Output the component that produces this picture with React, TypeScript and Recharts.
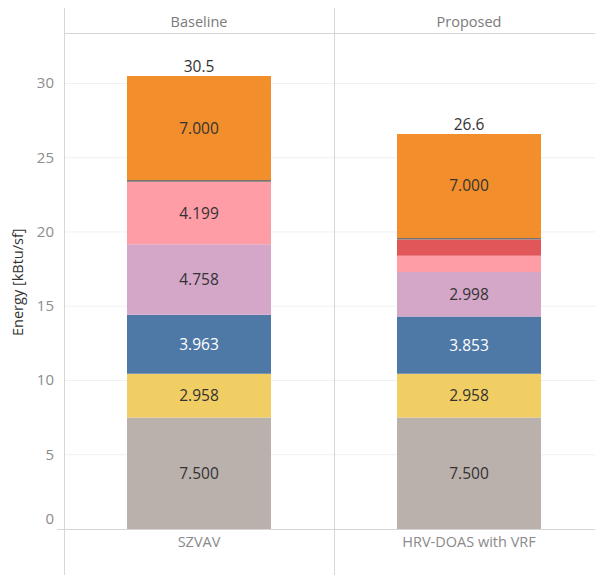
import { BarChart, Bar, XAxis, YAxis, CartesianGrid, LabelList } from 'recharts'

// panels (header row) and the system shown in each
const PANELS = ['Baseline', 'Proposed']
const SYSTEMS = ['SZVAV', 'HRV-DOAS with VRF']

// stacked energy components, bottom to top [kBtu/sf]
const grayVals = [7.5, 7.5]
const yellowVals = [2.958, 2.958]
const blueVals = [3.963, 3.853]
const purpleVals = [4.758, 2.998]
const pinkVals = [4.199, 1.09]
const redVals = [0, 1.1]
const darkVals = [0.12, 0.1]
const orangeVals = [7.0, 7.0]

const Y_TICKS = [0, 5, 10, 15, 20, 25, 30]

const SERIES = [
  { key: 'gray', values: grayVals, color: '#bab0ac', text: '#333' },
  { key: 'yellow', values: yellowVals, color: '#f1ce63', text: '#333' },
  { key: 'blue', values: blueVals, color: '#4e79a7', text: '#fff' },
  { key: 'purple', values: purpleVals, color: '#d4a6c8', text: '#333' },
  { key: 'pink', values: pinkVals, color: '#ff9da7', text: '#333' },
  { key: 'red', values: redVals, color: '#e15759', text: '#333' },
  { key: 'dark', values: darkVals, color: '#79706e', text: '#333' },
  { key: 'orange', values: orangeVals, color: '#f28e2b', text: '#333' },
]

const data = SYSTEMS.map((system, i) => {
  const row: Record<string, string | number> = { system, panel: PANELS[i] }
  let total = 0
  SERIES.forEach((s) => {
    row[s.key] = s.values[i]
    total += s.values[i]
  })
  row.total = total
  return row
})

const W = 604
const H = 575
const TOP = 8
const HEADER = 25
const Y_W = 64
const X_H = 30
const BOTTOM = 16
const FONT = 'Open Sans, sans-serif'
const FRAME = '#d6d6d6'

const YTick = (props: any) => {
  const { x, y, payload } = props
  return (
    <text
      x={x}
      y={y}
      dy={payload.value === 0 ? -5 : 5}
      textAnchor="end"
      fill="#8c8c8c"
      fontSize={15}
      fontFamily={FONT}
    >
      {payload.value}
    </text>
  )
}

export default function App() {
  const plotBottom = H - BOTTOM - X_H
  const plotW = W - Y_W
  return (
    <div
      style={{
        position: 'absolute',
        left: 0,
        top: 0,
        width: 595,
        height: H,
        overflow: 'hidden',
        background: '#fff',
      }}
    >
      <BarChart
        width={W}
        height={H}
        data={data}
        margin={{ top: TOP, right: 0, bottom: BOTTOM, left: 0 }}
        barSize={144}
        style={{ fontFamily: FONT }}
      >
        <CartesianGrid
          vertical={false}
          stroke="#f0f0f0"
          horizontalValues={Y_TICKS.filter((t) => t > 0)}
        />
        <XAxis
          xAxisId="panel"
          orientation="top"
          dataKey="panel"
          height={HEADER}
          tickLine={false}
          axisLine={false}
          tickMargin={0}
          tick={{ fill: '#7a7a7a', fontSize: 14.5, fontFamily: FONT }}
        />
        <XAxis
          dataKey="system"
          height={X_H}
          tickLine={false}
          axisLine={false}
          tick={{ fill: '#8a8a8a', fontSize: 14.5, fontFamily: FONT }}
        />
        <YAxis
          width={Y_W}
          domain={[0, 33.4]}
          ticks={Y_TICKS}
          tickLine={false}
          axisLine={false}
          tickMargin={4}
          tick={<YTick />}
          label={{
            value: 'Energy [kBtu/sf]',
            angle: -90,
            position: 'insideLeft',
            offset: 0,
            dx: 18,
            dy: 55,
            style: { fill: '#333', fontSize: 14.5, fontFamily: FONT },
          }}
        />
        {SERIES.map((s) => (
          <Bar
            key={s.key}
            dataKey={s.key}
            stackId="energy"
            fill={s.color}
            isAnimationActive={false}
          >
            <LabelList
              dataKey={s.key}
              position="center"
              fill={s.text}
              fontSize={15.5}
              fontFamily={FONT}
              formatter={(v: any) => (Number(v) >= 2 ? Number(v).toFixed(3) : '')}
            />
            {s.key === 'orange' && (
              <LabelList
                dataKey="total"
                position="top"
                offset={4}
                fill="#333"
                fontSize={15.5}
                fontFamily={FONT}
                formatter={(v: any) => Number(v).toFixed(1)}
              />
            )}
          </Bar>
        ))}
      </BarChart>
      {/* frame: header rule, baseline rule, left edge and panel divider */}
      <div style={{ position: 'absolute', left: Y_W, top: TOP + HEADER, width: plotW, height: 1, background: FRAME }} />
      <div style={{ position: 'absolute', left: Y_W - 7, top: plotBottom, width: plotW + 7, height: 1, background: FRAME }} />
      <div style={{ position: 'absolute', left: Y_W, top: TOP, width: 1, height: H - TOP, background: FRAME }} />
      <div style={{ position: 'absolute', left: Y_W + plotW / 2, top: TOP, width: 1, height: H - TOP, background: FRAME }} />
    </div>
  )
}
